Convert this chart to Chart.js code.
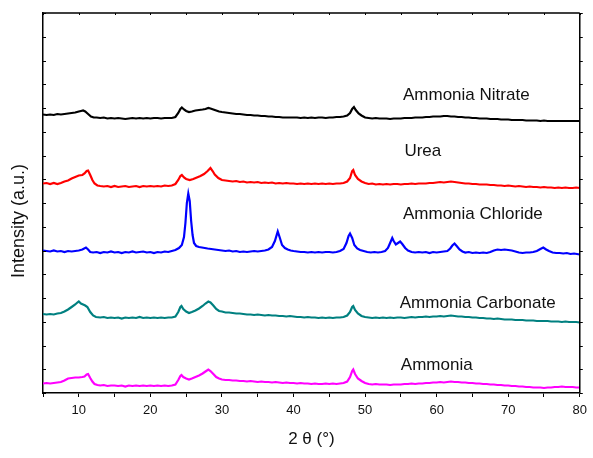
<!DOCTYPE html>
<html>
<head>
<meta charset="utf-8">
<script src="https://cdn.jsdelivr.net/npm/chart.js@4.4.1/dist/chart.umd.min.js"></script>
<style>
html,body{margin:0;padding:0;background:#fff;}
#wrap{width:593px;height:458px;position:relative;}
</style>
</head>
<body>
<div id="wrap"><canvas id="c" width="593" height="458"></canvas></div>
<script>
// ---- data: [2theta, intensity (a.u., offset included)] ----
const ammoniaNitrate = [[5,278.5],[5.5,278],[6,278.5],[6.5,278],[7,279],[7.5,278.5],[8,279],[8.5,279.5],[9,280],[9.5,280.5],[10,281.5],[10.3,282],[10.6,282.5],[10.9,281.5],[11.3,279],[11.7,276.5],[12.1,275.5],[12.5,275.5],[13,275],[13.5,275.5],[14,274.5],[14.5,275],[15,274.5],[15.5,275],[16,274.5],[16.5,274],[17,274.5],[17.5,275],[18,274.5],[18.5,275],[19,274.5],[19.5,275],[20,274.5],[20.5,275],[21,275],[21.5,274.5],[22,275],[22.5,275],[23,275],[23.5,276],[23.9,280],[24.2,284],[24.4,285.5],[24.7,283.5],[25,282],[25.4,281],[25.8,281.5],[26.3,282.5],[26.8,283],[27.3,283.5],[27.7,284],[28.1,285],[28.4,284.5],[28.8,283.5],[29.2,282.5],[29.6,281.5],[30,281],[30.5,280.5],[31,280],[31.5,279.5],[32,279],[32.5,279],[33,278.5],[33.5,278],[34,278],[34.5,277.5],[35,277.5],[35.5,277],[36,277],[36.5,276.5],[37,276.5],[37.5,276],[38,276],[38.5,275.5],[39,275.5],[39.5,275.5],[40,275.5],[40.5,275.5],[41,275],[41.5,275.5],[42,275],[42.5,275.5],[43,275],[43.5,275.5],[44,275.5],[44.5,275],[45,275.5],[45.5,275.5],[46,276],[46.5,276],[47,276.5],[47.5,277.5],[47.9,280],[48.2,284],[48.45,286],[48.7,283],[49.1,279.5],[49.5,277.5],[50,275.5],[50.5,275],[51,274.5],[51.5,275],[52,274.5],[52.5,274.5],[53,274.5],[53.5,274],[54,274.5],[54.5,274.5],[55,274.5],[55.5,275],[56,275],[56.5,275],[57,275.5],[57.5,275.5],[58,275.5],[58.5,276],[59,276],[59.5,276.5],[60,276.5],[60.5,276.5],[61,277],[61.5,277],[62,276.5],[62.5,276.5],[63,276],[63.5,276],[64,275.5],[64.5,275.5],[65,275],[65.5,275],[66,274.5],[66.5,274.5],[67,274.5],[67.5,274],[68,274],[68.5,274],[69,273.5],[69.5,273.5],[70,273.5],[70.5,273],[71,273],[71.5,273],[72,273],[72.5,272.5],[73,272.5],[73.5,272.5],[74,272.5],[74.5,272],[75,272.5],[75.5,272],[76,272],[76.5,272],[77,272],[77.5,272],[78,272],[78.5,272],[79,272],[79.5,272],[80,272]];

const urea = [[5,209.5],[5.5,210],[6,209],[6.5,210],[7,209],[7.5,210],[8,211.5],[8.5,212.5],[9,214.5],[9.5,216],[10,217.5],[10.5,218],[10.8,219.5],[11.1,222],[11.3,222.5],[11.6,218],[11.9,213],[12.2,209.5],[12.6,207.5],[13,207],[13.5,206.5],[14,207],[14.5,206],[15,207],[15.5,206],[16,206.5],[16.5,207],[17,206],[17.5,206.5],[18,207],[18.5,206],[19,207],[19.5,206.5],[20,207],[20.5,206.5],[21,207],[21.5,206.5],[22,207.5],[22.5,207],[23,207.5],[23.5,209],[23.9,213],[24.2,217],[24.4,218],[24.7,215.5],[25,214],[25.5,213],[26,214],[26.5,215.5],[27,217],[27.5,219],[28,222],[28.4,225],[28.7,222],[29,218.5],[29.5,215],[30,213],[30.5,212.5],[31,212],[31.5,211.5],[32,212],[32.5,211],[33,211.5],[33.5,210.5],[34,211],[34.5,210.5],[35,211],[35.5,210],[36,210.5],[36.5,210],[37,210.5],[37.5,209.5],[38,210],[38.5,209.5],[39,210],[39.5,209.5],[40,209.5],[40.5,209],[41,209.5],[41.5,209],[42,209.5],[42.5,209],[43,209.5],[43.5,209],[44,209.5],[44.5,209],[45,209.5],[45.5,209],[46,209.5],[46.5,209.5],[47,210],[47.5,211.5],[47.9,215],[48.2,222],[48.35,223],[48.6,218],[49,214],[49.5,211.5],[50,210],[50.5,209],[51,209.5],[51.5,208.5],[52,209],[52.5,208.5],[53,209],[53.5,208.5],[54,209],[54.5,209],[55,208.5],[55.5,209],[56,209],[56.5,209.5],[57,209],[57.5,209.5],[58,209.5],[58.5,209.5],[59,210],[59.5,210],[60,210.5],[60.5,211],[61,210.5],[61.5,211],[62,211.5],[62.5,211],[63,210.5],[63.5,210],[64,209.5],[64.5,209.5],[65,209],[65.5,209],[66,208.5],[66.5,208.5],[67,208.5],[67.5,208],[68,208],[68.5,207.5],[69,207.5],[69.5,207],[70,207.5],[70.5,207],[71,206.5],[71.5,207],[72,206.5],[72.5,206],[73,206.5],[73.5,206],[74,206],[74.5,205.5],[75,206],[75.5,205.5],[76,205.5],[76.5,205],[77,205.5],[77.5,205],[78,205.5],[78.5,205],[79,205],[79.5,205.5],[80,205]];

const ammoniaChloride = [[5,142.5],[5.5,142],[6,141.5],[6.5,142.5],[7,141.5],[7.5,142],[8,141],[8.5,142],[9,141.5],[9.5,142],[10,142.5],[10.5,143.5],[11,145.5],[11.3,143.5],[11.6,141],[12,140.5],[12.5,141],[13,140],[13.5,141],[14,140.5],[14.5,141.5],[15,140.5],[15.5,141],[16,140],[16.5,141],[17,140.5],[17.5,141.5],[18,140.5],[18.5,141],[19,141.5],[19.5,140.5],[20,141],[20.5,140],[21,141],[21.5,140.5],[22,141.5],[22.5,141],[23,142],[23.5,143],[24,145],[24.4,148],[24.7,156],[24.9,170],[25.1,190],[25.3,199.5],[25.5,192],[25.7,172],[25.9,158],[26.1,150],[26.4,147],[26.8,146],[27.2,145.5],[27.6,145],[28,144.5],[28.5,144],[29,143.5],[29.5,143],[30,142.5],[30.5,142],[31,142.5],[31.5,141.5],[32,142],[32.5,141],[33,141.5],[33.5,141],[34,141.5],[34.5,142],[35,141.5],[35.5,142],[36,142.5],[36.5,143.5],[37,146],[37.4,152],[37.8,161.5],[38.1,155],[38.4,148],[38.8,145],[39.2,143.5],[39.6,142.5],[40,142],[40.5,141.5],[41,141],[41.5,141],[42,140.5],[42.5,141],[43,140.5],[43.5,141],[44,140.5],[44.5,141],[45,141],[45.5,140.5],[46,141],[46.5,142],[47,144],[47.4,150],[47.7,157],[47.9,159.5],[48.2,155],[48.5,148],[48.9,144.5],[49.3,143],[49.8,142],[50.3,141],[50.8,140.5],[51.3,141],[51.8,140.5],[52.3,141],[52.8,142],[53.2,145],[53.5,150],[53.8,155],[54,152],[54.3,148.5],[54.6,150],[54.9,151.5],[55.2,149],[55.6,145],[56,142.5],[56.5,141],[57,140.5],[57.5,141],[58,140.5],[58.5,141],[59,140],[59.5,141],[60,140.5],[60.5,141],[61,141.5],[61.5,142],[61.9,144.5],[62.2,147.5],[62.5,149.5],[62.8,147],[63.2,143.5],[63.6,141.5],[64,140.5],[64.5,141],[65,140],[65.5,140.5],[66,140],[66.5,140.5],[67,140],[67.5,141],[68,142.5],[68.5,143.5],[69,143],[69.5,143.5],[70,143],[70.5,142.5],[71,141.5],[71.5,140.5],[72,140],[72.5,140.5],[73,140.5],[73.5,141],[74,142],[74.5,144],[74.9,145.5],[75.3,143.5],[75.7,142],[76.2,140.5],[76.7,140],[77.2,140],[77.7,139.5],[78.2,140],[78.7,139],[79.2,139.5],[80,138.5]];

const ammoniaCarbonate = [[5,79],[5.5,78.5],[6,79],[6.5,78.5],[7,79.5],[7.5,80],[8,81.5],[8.5,83.5],[9,86],[9.5,88.5],[9.8,90.5],[10,91.5],[10.3,89.5],[10.6,88.5],[10.9,87.5],[11.2,86],[11.6,81],[12,77.5],[12.4,76],[13,75.5],[13.5,76],[14,75],[14.5,75.5],[15,75],[15.5,75.5],[16,74.5],[16.5,75.5],[17,75],[17.5,75.5],[18,75],[18.5,76],[19,75],[19.5,75.5],[20,75],[20.5,75.5],[21,75],[21.5,75.5],[22,75],[22.5,75.5],[23,75.5],[23.5,76.5],[23.9,81],[24.2,86],[24.35,87],[24.6,84],[25,81.5],[25.4,80],[25.8,81],[26.3,82.5],[26.8,84.5],[27.3,87],[27.7,89.5],[28.1,91.5],[28.4,90.5],[28.8,87.5],[29.2,84],[29.6,82],[30,81.5],[30.5,80.5],[31,80.5],[31.5,80],[32,79.5],[32.5,79.5],[33,79],[33.5,78.5],[34,78.5],[34.5,78],[35,78.5],[35.5,78],[36,77.5],[36.5,78],[37,77.5],[37.5,77.5],[38,77],[38.5,77],[39,76.5],[39.5,77],[40,76.5],[40.5,76],[41,76],[41.5,75.5],[42,76],[42.5,75.5],[43,75.5],[43.5,75],[44,75.5],[44.5,75],[45,75.5],[45.5,75],[46,75.5],[46.5,75.5],[47,76],[47.5,77.5],[47.9,81],[48.2,86],[48.35,87],[48.6,83],[49,79.5],[49.5,77],[50,76],[50.5,75.5],[51,75],[51.5,75.5],[52,75],[52.5,75.5],[53,75],[53.5,75.5],[54,75],[54.5,75.5],[55,75.5],[55.5,75],[56,75.5],[56.5,76],[57,75.5],[57.5,76],[58,76],[58.5,76.5],[59,76],[59.5,76.5],[60,76.5],[60.5,77],[61,76.5],[61.5,77],[62,77.5],[62.5,77],[63,76.5],[63.5,76.5],[64,76],[64.5,76],[65,75.5],[65.5,75.5],[66,75],[66.5,75],[67,74.5],[67.5,74.5],[68,74],[68.5,74.5],[69,74],[69.5,73.5],[70,73.5],[70.5,73.5],[71,73],[71.5,73],[72,73],[72.5,72.5],[73,72.5],[73.5,72.5],[74,72],[74.5,72],[75,72],[75.5,72],[76,71.5],[76.5,71.5],[77,71.5],[77.5,71],[78,71.5],[78.5,71],[79,71],[79.5,71],[80,70.5]];

const ammonia = [[5,9.5],[5.5,10],[6,9.5],[6.5,10],[7,10.5],[7.5,11],[8,12.5],[8.5,14.5],[9,15],[9.5,15.5],[10,15.5],[10.5,16],[10.8,16.5],[11.1,18.5],[11.3,19],[11.6,15],[11.9,11.5],[12.2,9],[12.6,8],[13,7.5],[13.5,8],[14,7],[14.5,7.5],[15,7.5],[15.5,7],[16,7.5],[16.5,6.5],[17,7.5],[17.5,7],[18,7.5],[18.5,7],[19,7.5],[19.5,7],[20,7.5],[20.5,7],[21,7.5],[21.5,7],[22,7.5],[22.5,7],[23,7.5],[23.5,8.5],[23.9,13],[24.2,17],[24.35,18],[24.6,16],[25,14.5],[25.4,13.5],[25.8,14.5],[26.3,16],[26.8,17.5],[27.3,19.5],[27.7,21.5],[28.1,23.5],[28.4,22],[28.8,19],[29.2,16],[29.6,14.5],[30,13.5],[30.5,13],[31,13],[31.5,12.5],[32,12.5],[32.5,12],[33,12],[33.5,11.5],[34,12],[34.5,11.5],[35,11],[35.5,11.5],[36,11],[36.5,11],[37,10.5],[37.5,11],[38,10.5],[38.5,10],[39,10.5],[39.5,10],[40,10],[40.5,9.5],[41,10],[41.5,9.5],[42,9.5],[42.5,9],[43,9.5],[43.5,9],[44,9],[44.5,9.5],[45,9],[45.5,9.5],[46,9],[46.5,9.5],[47,10],[47.5,11.5],[47.9,16],[48.2,22],[48.35,23.5],[48.6,19],[49,14.5],[49.5,12],[50,10],[50.5,9],[51,8.5],[51.5,9],[52,8.5],[52.5,8.5],[53,8.5],[53.5,8],[54,8.5],[54.5,8.5],[55,8.5],[55.5,9],[56,9],[56.5,9.5],[57,9],[57.5,9.5],[58,9.5],[58.5,10],[59,10],[59.5,10.5],[60,10.5],[60.5,11],[61,10.5],[61.5,11],[62,11.5],[62.5,11],[63,11],[63.5,10.5],[64,10.5],[64.5,10],[65,10],[65.5,9.5],[66,9.5],[66.5,9],[67,9],[67.5,8.5],[68,8.5],[68.5,8],[69,8],[69.5,7.5],[70,7.5],[70.5,7],[71,7],[71.5,6.5],[72,6.5],[72.5,6],[73,6],[73.5,5.5],[74,5.5],[74.5,5.5],[75,5],[75.5,5.5],[76,5.5],[76.5,6],[77,6],[77.5,6.5],[78,6],[78.5,6],[79,6],[79.5,5.5],[80,5.5]];

const seriesNames = ['Ammonia Nitrate','Urea','Ammonia Chloride','Ammonia Carbonate','Ammonia'];
const seriesColors = ['#000000','#ff0000','#0000ff','#008080','#ff00ff'];
const seriesData = [ammoniaNitrate, urea, ammoniaChloride, ammoniaCarbonate, ammonia];
// label anchors (2theta, intensity) where each sample name sits
const labelX = [55.3, 55.5, 55.3, 54.85, 55.0];
const labelY = [293.3, 237.3, 174.0, 85.0, 23.3];

const xMin = 5, xMax = 80, xStep = 5;
const yMin = 0, yMax = 380, yStep = 23.75;
const FONT = "'Liberation Sans', Arial, Helvetica, sans-serif";

const framePlugin = {
  id: 'frame',
  afterDraw(chart) {
    const ctx = chart.ctx;
    const a = chart.chartArea;
    const xs = chart.scales.x, ys = chart.scales.y;
    ctx.save();
    ctx.strokeStyle = '#000';
    ctx.lineWidth = 1.5;
    ctx.beginPath();
    ctx.moveTo(a.left, a.top); ctx.lineTo(a.right, a.top);
    ctx.moveTo(a.right, a.top); ctx.lineTo(a.right, a.bottom);
    ctx.stroke();
    ctx.lineWidth = 1;
    ctx.beginPath();
    ys.ticks.forEach(t => {
      const py = Math.round(ys.getPixelForValue(t.value)) + 0.5;
      ctx.moveTo(a.left, py); ctx.lineTo(a.left + 3, py);
      ctx.moveTo(a.right, py); ctx.lineTo(a.right + 3, py);
    });
    xs.ticks.forEach(t => {
      const px = Math.round(xs.getPixelForValue(t.value)) + 0.5;
      ctx.moveTo(px, a.top); ctx.lineTo(px, a.top + 2);
    });
    ctx.stroke();
    // sample names
    ctx.fillStyle = '#111';
    ctx.font = '17px ' + FONT;
    ctx.textBaseline = 'alphabetic';
    ctx.textAlign = 'left';
    seriesNames.forEach((n, i) => {
      ctx.fillText(n, xs.getPixelForValue(labelX[i]), ys.getPixelForValue(labelY[i]));
    });
    // y title
    ctx.translate(19.5, (a.top + a.bottom) / 2 + 18);
    ctx.rotate(-Math.PI / 2);
    ctx.textAlign = 'center';
    ctx.textBaseline = 'middle';
    ctx.font = '18px ' + FONT;
    ctx.fillText('Intensity (a.u.)', 0, 0);
    ctx.restore();
  }
};

new Chart(document.getElementById('c'), {
  type: 'line',
  data: {
    datasets: seriesData.map((d, i) => ({
      label: seriesNames[i],
      data: d.map(p => ({x: p[0], y: p[1]})),
      borderColor: seriesColors[i],
      backgroundColor: seriesColors[i],
      borderWidth: 2.2,
      pointRadius: 0,
      tension: 0,
      fill: false
    }))
  },
  options: {
    responsive: false,
    animation: false,
    devicePixelRatio: 1,
    layout: { padding: { top: 13, right: 10, left: 0, bottom: 0 } },
    plugins: { legend: { display: false }, tooltip: { enabled: false } },
    scales: {
      x: {
        type: 'linear', min: xMin, max: xMax,
        afterFit(s) { s.height = 65; },
        ticks: {
          stepSize: xStep, autoSkip: false, maxRotation: 0, padding: 6,
          color: '#111', font: { family: FONT, size: 13 },
          callback: v => (v % 10 === 0 ? String(v) : '')
        },
        grid: { drawOnChartArea: false, drawTicks: true, tickLength: 4, color: '#000', lineWidth: 1 },
        border: { display: true, color: '#000', width: 1.5 },
        title: { display: true, text: '2 θ (°)', color: '#111', font: { family: FONT, size: 17 }, padding: { top: 0, bottom: 8 } }
      },
      y: {
        type: 'linear', min: yMin, max: yMax,
        afterFit(s) { s.width = 43; },
        ticks: { display: false, stepSize: yStep },
        grid: { drawOnChartArea: false, drawTicks: false },
        border: { display: true, color: '#000', width: 1.5 }
      }
    }
  },
  plugins: [framePlugin]
});
</script>
</body>
</html>
